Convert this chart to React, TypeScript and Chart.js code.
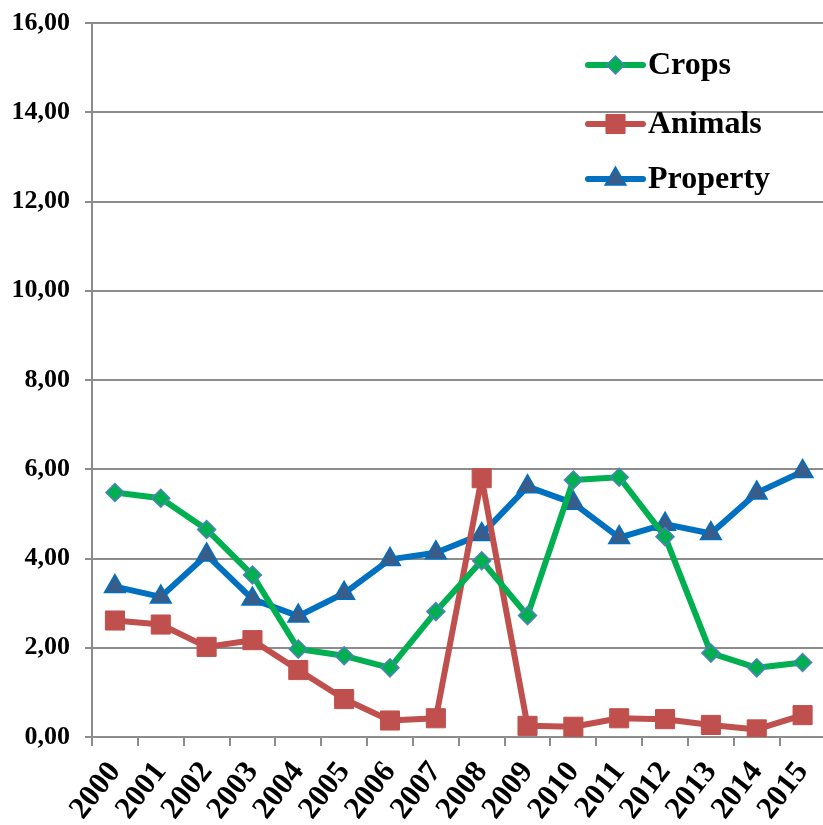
import React, { useEffect, useRef } from "react";
import { Chart, registerables } from "chart.js";

Chart.register(...registerables);

const years = ["2000","2001","2002","2003","2004","2005","2006","2007","2008","2009","2010","2011","2012","2013","2014","2015"];
const crops = [5.48, 5.35, 4.65, 3.63, 1.97, 1.82, 1.55, 2.81, 3.95, 2.72, 5.76, 5.82, 4.49, 1.88, 1.55, 1.67];
const animals = [2.61, 2.52, 2.02, 2.17, 1.50, 0.85, 0.37, 0.42, 5.80, 0.25, 0.23, 0.42, 0.40, 0.27, 0.17, 0.49];
const property = [3.37, 3.14, 4.08, 3.09, 2.71, 3.22, 3.98, 4.13, 4.54, 5.61, 5.24, 4.47, 4.77, 4.56, 5.47, 5.95];
const seriesNames = ["Crops", "Animals", "Property"];

const FONT = '"Liberation Serif", "Times New Roman", serif';

const legendPlugin = {
  id: "insideLegend",
  afterDraw(chart: any) {
    const ctx = chart.ctx;
    const area = chart.chartArea;
    const lx0 = area.left + 496;
    const lx1 = area.left + 551;
    const rows = [area.top + 42, area.top + 101, area.top + 156];
    chart.data.datasets.forEach((ds: any, i: number) => {
      const y = rows[i];
      ctx.save();
      ctx.strokeStyle = ds.borderColor;
      ctx.lineWidth = ds.borderWidth;
      ctx.lineCap = "round";
      ctx.beginPath();
      ctx.moveTo(lx0, y);
      ctx.lineTo(lx1, y);
      ctx.stroke();
      const cx = (lx0 + lx1) / 2;
      ctx.fillStyle = ds.pointBackgroundColor;
      ctx.strokeStyle = ds.pointBorderColor;
      ctx.lineWidth = ds.pointBorderWidth;
      ctx.lineCap = "butt";
      ctx.beginPath();
      const r = ds.pointRadius;
      if (ds.pointStyle === "rectRot") {
        ctx.moveTo(cx, y - r);
        ctx.lineTo(cx + r, y);
        ctx.lineTo(cx, y + r);
        ctx.lineTo(cx - r, y);
        ctx.closePath();
      } else if (ds.pointStyle === "rect") {
        const s = r * Math.SQRT1_2;
        ctx.rect(cx - s, y - s, 2 * s, 2 * s);
      } else {
        ctx.moveTo(cx, y - r);
        ctx.lineTo(cx + r * Math.cos(Math.PI / 6), y + r / 2);
        ctx.lineTo(cx - r * Math.cos(Math.PI / 6), y + r / 2);
        ctx.closePath();
      }
      ctx.fill();
      ctx.stroke();
      ctx.fillStyle = "#000";
      ctx.font = `bold 32px ${FONT}`;
      ctx.textBaseline = "middle";
      ctx.textAlign = "left";
      ctx.fillText(ds.label, lx1 + 5, y + 1);
      ctx.restore();
    });
  },
};

export default function App() {
  const ref = useRef<HTMLCanvasElement | null>(null);
  useEffect(() => {
    if (!ref.current) return;
    const chart = new Chart(ref.current, {
      type: "line",
      data: {
        labels: years,
        datasets: [
          {
            label: seriesNames[0],
            data: crops,
            borderColor: "#00B050",
            borderWidth: 6,
            pointStyle: "rectRot",
            pointRadius: 9,
            pointBackgroundColor: "#00B050",
            pointBorderColor: "#4F81BD",
            pointBorderWidth: 1.5,
            tension: 0,
          },
          {
            label: seriesNames[1],
            data: animals,
            borderColor: "#C0504D",
            borderWidth: 6,
            pointStyle: "rect",
            pointRadius: 13.5,
            pointBackgroundColor: "#C0504D",
            pointBorderColor: "#C0504D",
            pointBorderWidth: 1,
            tension: 0,
          },
          {
            label: seriesNames[2],
            data: property,
            borderColor: "#0070C0",
            borderWidth: 6,
            pointStyle: "triangle",
            pointRadius: 12,
            pointBackgroundColor: "#385D8A",
            pointBorderColor: "#0070C0",
            pointBorderWidth: 1.5,
            tension: 0,
          },
        ],
      },
      options: {
        responsive: false,
        animation: false,
        devicePixelRatio: 1,
        layout: { padding: { top: 23, right: 12, left: 0, bottom: 0 } },
        plugins: { legend: { display: false }, tooltip: { enabled: false } },
        elements: { line: { borderJoinStyle: "round", borderCapStyle: "round" } },
        scales: {
          x: {
            offset: true,
            border: { display: true, color: "#8C8C8C", width: 2 },
            grid: {
              offset: true,
              drawOnChartArea: false,
              drawTicks: true,
              tickLength: 9,
              color: "#8C8C8C",
              lineWidth: 2,
            },
            ticks: {
              color: "#000",
              font: { family: FONT, size: 31, weight: "bold" },
              maxRotation: 52,
              minRotation: 52,
              padding: 9,
              autoSkip: false,
            },
            afterFit(scale: any) {
              scale.height = 88;
              scale.paddingLeft = 0;
              scale.paddingRight = 0;
            },
          },
          y: {
            min: 0,
            max: 16,
            border: { display: true, color: "#8C8C8C", width: 2 },
            grid: {
              color: "#8C8C8C",
              lineWidth: 2,
              tickLength: 7,
            },
            ticks: {
              stepSize: 2,
              color: "#000",
              padding: 15,
              font: { family: FONT, size: 26, weight: "bold" },
              callback: (v: any) => Number(v).toFixed(2).replace(".", ","),
            },
            afterFit(scale: any) {
              scale.width = 92;
              scale.paddingTop = 0;
              scale.paddingBottom = 0;
            },
          },
        },
      },
      plugins: [legendPlugin],
    });
    return () => chart.destroy();
  }, []);
  return (
    <div style={{ position: "fixed", left: 0, top: 0, width: 823, height: 825, overflow: "hidden", background: "#fff" }}>
      <canvas ref={ref} width={840} height={825} style={{ width: 840, height: 825, display: "block" }} />
    </div>
  );
}
